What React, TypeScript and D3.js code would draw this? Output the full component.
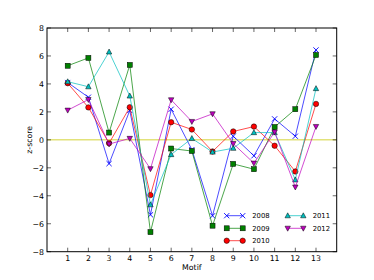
import React from "react";
import * as d3 from "d3";

const motifs = [1, 2, 3, 4, 5, 6, 7, 8, 9, 10, 11, 12, 13];
const yTicks = [-8, -6, -4, -2, 0, 2, 4, 6, 8];

const s2008 = [4.1, 3.05, -1.7, 2.1, -5.36, 2.19, -0.7, -5.43, 0.26, -1.14, 1.5, 0.26, 6.43];
const s2009 = [5.3, 5.86, 0.52, 5.36, -6.6, -0.62, -0.8, -6.14, -1.72, -2.1, 0.92, 2.19, 6.07];
const s2010 = [4.05, 2.32, -0.24, 2.33, -3.95, 1.26, 0.74, -0.83, 0.6, 0.95, -0.42, -2.26, 2.57];
const s2011 = [4.16, 3.8, 6.29, 3.14, -4.64, -1.05, 0.1, -0.87, -0.6, 0.52, 0.52, -2.86, 3.67];
const s2012 = [2.12, 2.88, -0.3, 0.1, -2.07, 2.86, 1.31, 1.86, -0.27, -1.67, 0.56, -3.38, 0.95];

const seriesNames = ["2008", "2009", "2010", "2011", "2012"];
const seriesValues = [s2008, s2009, s2010, s2011, s2012];
const colors = ["#0000ff", "#008000", "#ff0000", "#00bfbf", "#bf00bf"];
const markers = ["x", "s", "o", "^", "v"];

const L = 47, R = 336.7, T = 28, B = 251.7;

function Marker({ type, x, y, color }: { type: string; x: number; y: number; color: string }) {
  if (type === "x") {
    const r = 2.6;
    return (
      <path
        d={`M${x - r},${y - r}L${x + r},${y + r}M${x - r},${y + r}L${x + r},${y - r}`}
        stroke={color}
        strokeWidth={0.9}
        fill="none"
      />
    );
  }
  if (type === "s") {
    return <rect x={x - 2.5} y={y - 2.5} width={5} height={5} fill={color} stroke="#000" strokeWidth={0.5} />;
  }
  if (type === "o") {
    return <circle cx={x} cy={y} r={2.7} fill={color} stroke="#000" strokeWidth={0.5} />;
  }
  if (type === "^") {
    return (
      <path d={`M${x},${y - 2.9}L${x + 2.7},${y + 2.1}L${x - 2.7},${y + 2.1}Z`} fill={color} stroke="#000" strokeWidth={0.5} />
    );
  }
  return (
    <path d={`M${x},${y + 2.9}L${x + 2.7},${y - 2.1}L${x - 2.7},${y - 2.1}Z`} fill={color} stroke="#000" strokeWidth={0.5} />
  );
}

export default function App() {
  const x = d3.scaleLinear().domain([0, 14]).range([L, R]);
  const y = d3.scaleLinear().domain([-8, 8]).range([B, T]);
  const line = d3
    .line<number>()
    .x((_, i) => x(motifs[i]))
    .y((d) => y(d));
  const font = "'DejaVu Sans', sans-serif";
  const fmt = (v: number) => (v < 0 ? "\u2212" + Math.abs(v) : String(v));

  const legendItems = [
    { i: 0, col: 0, row: 0 },
    { i: 1, col: 0, row: 1 },
    { i: 2, col: 0, row: 2 },
    { i: 3, col: 1, row: 0 },
    { i: 4, col: 1, row: 1 },
  ];
  const legCols = [
    { x1: 226.7, x2: 242.7, tx: 252.3 },
    { x1: 287.7, x2: 303.3, tx: 312.7 },
  ];
  const legRows = [215.7, 228.3, 240.7];

  return (
    <svg width={374} height={280} style={{ position: "absolute", left: 0, top: 0, background: "#fff" }}>
      <rect x={0} y={0} width={374} height={280} fill="#fff" />
      <line x1={L} x2={R} y1={y(0)} y2={y(0)} stroke="#e2e27a" strokeWidth={1.5} />
      {seriesValues.map((vals, si) => (
        <g key={si}>
          <path d={line(vals) || ""} fill="none" stroke={colors[si]} strokeWidth={1} strokeOpacity={0.7} />
          {vals.map((v, i) => (
            <Marker key={i} type={markers[si]} x={x(motifs[i])} y={y(v)} color={colors[si]} />
          ))}
        </g>
      ))}
      <rect x={L} y={T} width={R - L} height={B - T} fill="none" stroke="#000" strokeWidth={1} />
      {motifs.map((m) => (
        <g key={m}>
          <line x1={x(m)} x2={x(m)} y1={B} y2={B - 4} stroke="#000" strokeWidth={0.6} />
          <line x1={x(m)} x2={x(m)} y1={T} y2={T + 4} stroke="#000" strokeWidth={0.6} />
          <text x={x(m)} y={261} fontSize={7.8} fontFamily={font} textAnchor="middle">
            {m}
          </text>
        </g>
      ))}
      {yTicks.map((t) => (
        <g key={t}>
          <line x1={L} x2={L + 4} y1={y(t)} y2={y(t)} stroke="#000" strokeWidth={0.6} />
          <line x1={R} x2={R - 4} y1={y(t)} y2={y(t)} stroke="#000" strokeWidth={0.6} />
          <text x={44} y={y(t) + 2.8} fontSize={7.8} fontFamily={font} textAnchor="end">
            {fmt(t)}
          </text>
        </g>
      ))}
      <text x={(L + R) / 2} y={269.5} fontSize={7.8} fontFamily={font} textAnchor="middle">
        Motif
      </text>
      <text
        x={0}
        y={0}
        transform={`translate(31.5,${(T + B) / 2}) rotate(-90)`}
        fontSize={7.8}
        fontFamily={font}
        textAnchor="middle"
      >
        z-score
      </text>
      {legendItems.map(({ i, col, row }) => {
        const c = legCols[col];
        const yy = legRows[row];
        return (
          <g key={i}>
            <line x1={c.x1} x2={c.x2} y1={yy} y2={yy} stroke={colors[i]} strokeWidth={1} strokeOpacity={0.7} />
            <Marker type={markers[i]} x={c.x1} y={yy} color={colors[i]} />
            <Marker type={markers[i]} x={c.x2} y={yy} color={colors[i]} />
            <text x={c.tx} y={yy + 2.5} fontSize={6.8} fontFamily={font}>
              {seriesNames[i]}
            </text>
          </g>
        );
      })}
    </svg>
  );
}
